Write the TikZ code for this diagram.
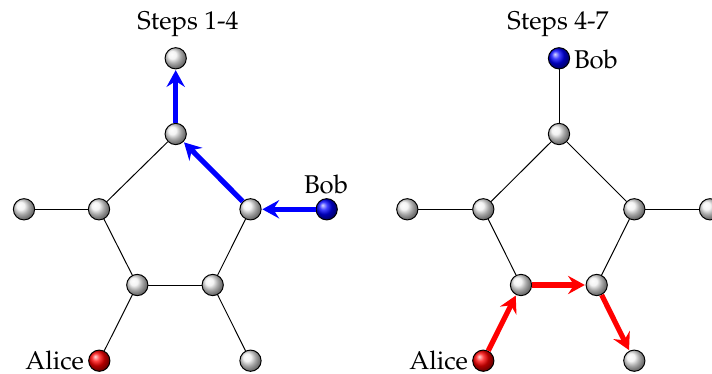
\documentclass[tikz,border=0pt]{standalone}
\usepackage[T1]{fontenc}
\usepackage{mathpazo}
\usetikzlibrary{arrows.meta}

\tikzset{
  vertex/.style={circle, draw=black, line width=0.4pt, inner sep=0pt,
                 minimum size=8.6pt, shading=ball, ball color=white!88!gray},
  alicev/.style={vertex, ball color=red},
  bobv/.style={vertex, ball color=blue},
  edge/.style={draw=black, line width=0.4pt},
  bluepath/.style={draw=blue, line width=2.1pt,
                   -{Stealth[length=6.8pt, width=7.4pt, inset=2.4pt]}, shorten >=0.3pt},
  redpath/.style={draw=red, line width=2.1pt,
                  -{Stealth[length=6.8pt, width=7.4pt, inset=2.4pt]}, shorten >=0.3pt},
  caption/.style={anchor=base, inner sep=0pt}
}

\begin{document}
\begin{tikzpicture}[x=0.405pt, y=-0.405pt, font=\fontsize{10.4pt}{12.5pt}\selectfont]
  \useasboundingbox (0,0) rectangle (712,374);
  \clip (0,0) rectangle (712,374);

  % ---------- first graph: Bob's walk ----------
  \node[caption] (t1) at (188,30) {Steps 1-4};

  \node[vertex] (a0) at (175.7,58.3) {};
  \node[vertex] (a1) at (175.7,134) {};
  \node[vertex] (a2) at (99,209.3) {};
  \node[vertex] (a3) at (250.5,209.3) {};
  \node[vertex] (a4) at (137.3,285) {};
  \node[vertex] (a5) at (212.7,285) {};
  \node[vertex] (a6) at (24,209.3) {};
  \node[bobv]   (a7) at (326.7,209.3) {};
  \node[alicev] (a8) at (99.3,360.7) {};
  \node[vertex] (a9) at (250.5,360.7) {};

  \draw[edge] (a6) -- (a2);
  \draw[edge] (a2) -- (a1);
  \draw[edge] (a2) -- (a4);
  \draw[edge] (a4) -- (a5);
  \draw[edge] (a5) -- (a3);
  \draw[edge] (a4) -- (a8);
  \draw[edge] (a5) -- (a9);

  \draw[bluepath] (a7) -- (a3);
  \draw[bluepath] (a3) -- (a1);
  \draw[bluepath] (a1) -- (a0);

  \node[caption] (bobA) at (326,193.3) {Bob};
  \node[anchor=base east, inner sep=0pt] (aliceA) at (84.5,370) {Alice};

  % ---------- second graph: Alice's walk ----------
  \node[caption] (t2) at (558,30) {Steps 4-7};

  \node[bobv]   (b0) at (559,58.3) {};
  \node[vertex] (b1) at (559,134) {};
  \node[vertex] (b2) at (483.3,209.3) {};
  \node[vertex] (b3) at (634.3,209.3) {};
  \node[vertex] (b4) at (521,285) {};
  \node[vertex] (b5) at (596.7,285) {};
  \node[vertex] (b6) at (407.3,209.3) {};
  \node[vertex] (b7) at (710,209.3) {};
  \node[alicev] (b8) at (483.3,360.7) {};
  \node[vertex] (b9) at (634.3,360.7) {};

  \draw[edge] (b0) -- (b1);
  \draw[edge] (b1) -- (b2);
  \draw[edge] (b1) -- (b3);
  \draw[edge] (b6) -- (b2);
  \draw[edge] (b3) -- (b7);
  \draw[edge] (b2) -- (b4);
  \draw[edge] (b3) -- (b5);

  \draw[redpath] (b8) -- (b4);
  \draw[redpath] (b4) -- (b5);
  \draw[redpath] (b5) -- (b9);

  \node[anchor=base west, inner sep=0pt] (bobB) at (573.5,68.3) {Bob};
  \node[anchor=base east, inner sep=0pt] (aliceB) at (468.5,370) {Alice};
\end{tikzpicture}
\end{document}
